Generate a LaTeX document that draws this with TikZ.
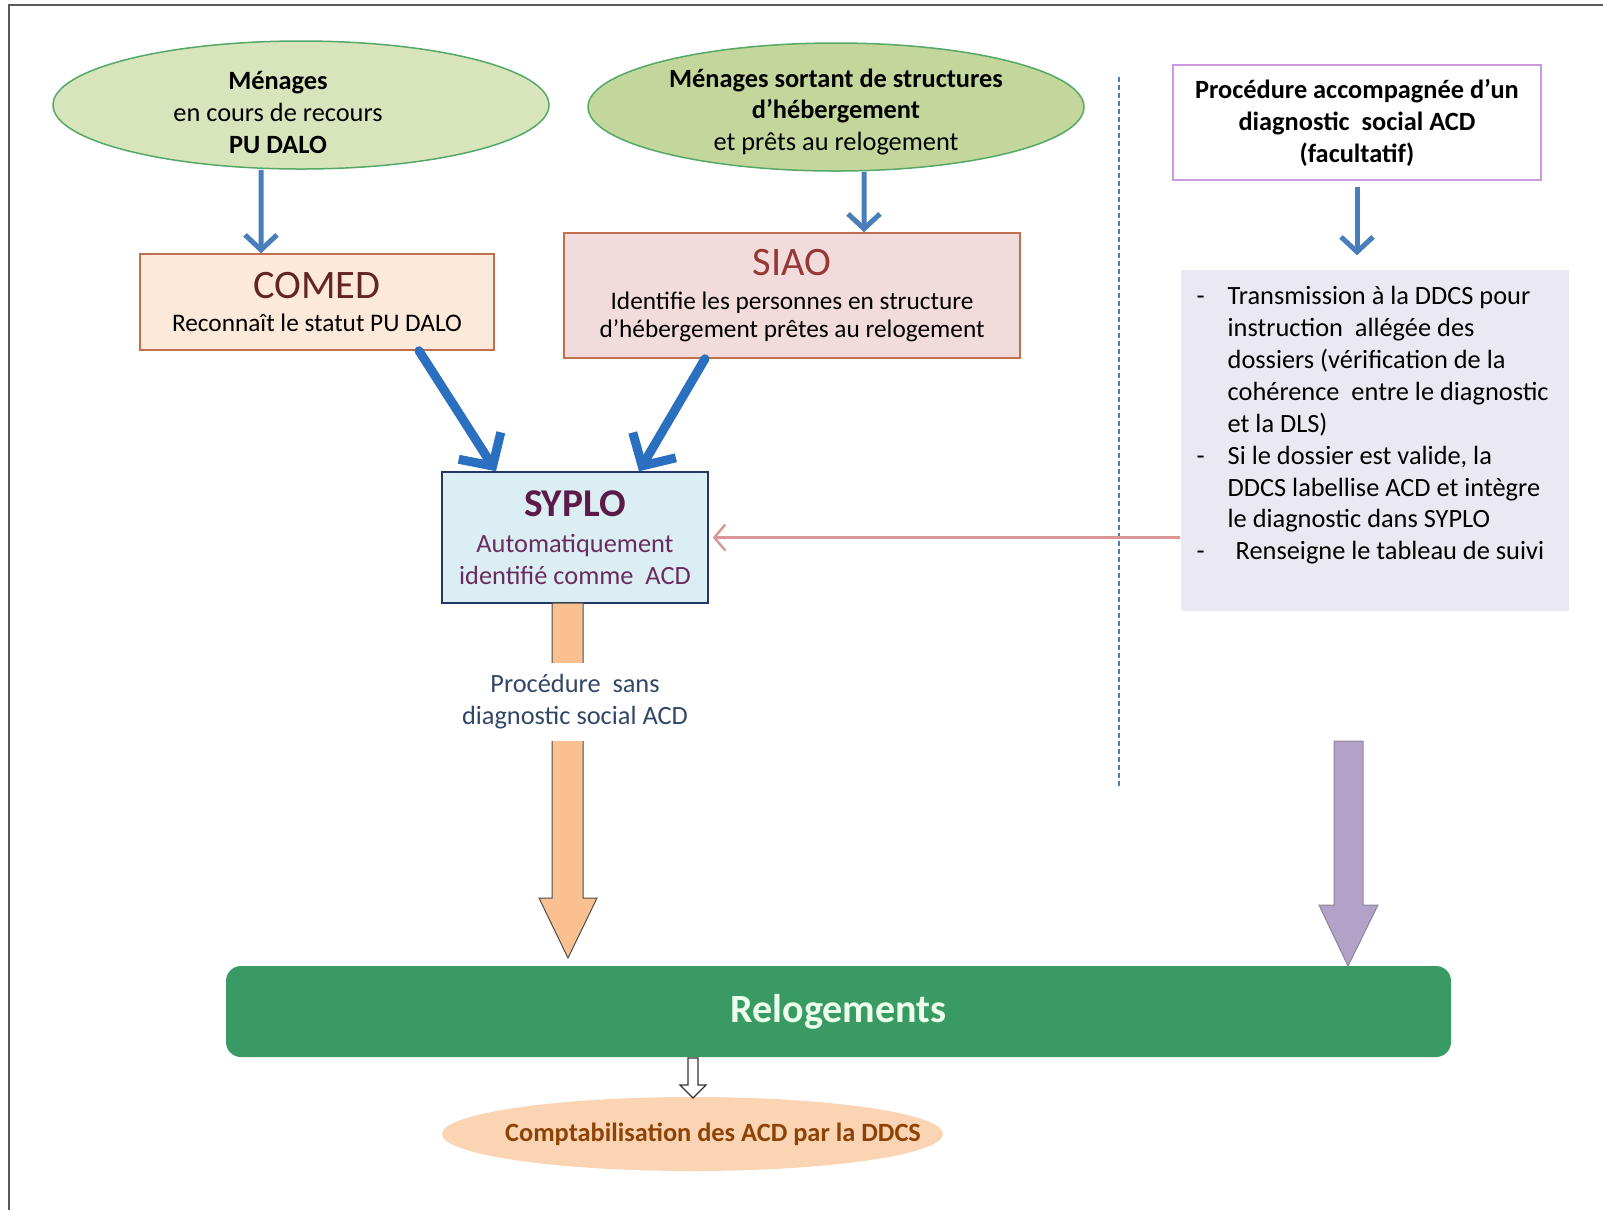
\documentclass[tikz,border=0pt]{standalone}
\usepackage{fontspec}
\setmainfont{Carlito}
\usetikzlibrary{shapes.geometric,arrows.meta}

\definecolor{vertclair}{HTML}{D8E4BC}
\definecolor{vertmoyen}{HTML}{C3D69B}
\definecolor{bordvert}{HTML}{55A866}
\definecolor{peche}{HTML}{FDE9D9}
\definecolor{rosepale}{HTML}{F2DCDB}
\definecolor{bordbrun}{HTML}{C0704F}
\definecolor{bleuciel}{HTML}{DBEEF4}
\definecolor{marine}{HTML}{1F3864}
\definecolor{bleu}{HTML}{4A7EBB}
\definecolor{bleuvif}{HTML}{2A6FC0}
\definecolor{gris}{HTML}{EAE8F0}
\definecolor{lilas}{HTML}{CC99E0}
\definecolor{rosefil}{HTML}{D99694}
\definecolor{orange}{HTML}{FAC090}
\definecolor{mauve}{HTML}{B3A2C7}
\definecolor{vertfonce}{HTML}{3A9A64}
\definecolor{saumon}{HTML}{FBD4B4}
\definecolor{brun}{HTML}{8E4306}
\definecolor{prune}{HTML}{6A2C5E}

\begin{document}
\begin{tikzpicture}[x=0.1mm, y=-0.1mm,
	every node/.style={font=\fontsize{7.5}{9.1}\selectfont, inner sep=0pt},
	bulle/.style={ellipse, draw=bordvert, line width=0.15mm},
	boite/.style={rectangle, line width=0.15mm, align=center},
	fleche/.style={draw=bleu, line width=0.5mm, -{Straight Barb[length=1.5mm, width=3.2mm]}},
	grosse/.style={draw=bleuvif, line width=0.9mm, line cap=round, -{Straight Barb[length=2.4mm, width=5mm]}},
	]

	\useasboundingbox (0,0) rectangle (1603,1210);
	\draw [draw=black!65, line width=0.2mm] (1603,5) -- (9,5) -- (9,1210);

	% les deux publics
	\node [bulle, fill=vertclair, minimum width=49.6mm, minimum height=12.8mm] (dalo) at (301,105) {};
	\node [align=center] (dalotexte) at (278,112) {\textbf{Ménages}\\en cours de recours\\\textbf{PU DALO}};
	\node [bulle, fill=vertmoyen, minimum width=49.6mm, minimum height=12.8mm] (heberg) at (836,107) {};
	\node [align=center] (hebergtexte) at (836,112) {\textbf{Ménages sortant de structures}\\\textbf{d’hébergement}\\et prêts au relogement};

	% instances
	\node [boite, draw=bordbrun, fill=peche, minimum width=35.4mm, minimum height=9.6mm, font=\fontsize{7.2}{8.6}\selectfont] (comed) at (317,302)
		{{\fontsize{11.5}{13}\selectfont\color[HTML]{632523}COMED}\\[1pt] Reconnaît le statut PU DALO};
	\node [boite, draw=bordbrun, fill=rosepale, minimum width=45.6mm, minimum height=12.5mm, font=\fontsize{7.2}{8}\selectfont] (siao) at (792,295.5)
		{{\fontsize{11.5}{13}\selectfont\color[HTML]{953735}SIAO}\\[1.7pt] Identifie les personnes en structure\\d’hébergement prêtes au relogement};
	\node [boite, draw=marine, fill=bleuciel, minimum width=26.6mm, minimum height=13.1mm, text=prune] (syplo) at (575,537.5)
		{{\fontsize{11.2}{13}\selectfont\bfseries\color[HTML]{5B1A48}SYPLO}\\[1.1pt] Automatiquement\\identifié comme~ ACD};

	% procedure avec diagnostic
	\draw [draw=bleu, line width=0.12mm, dash pattern=on 0.5mm off 0.3mm] (1119,77) -- (1119,787);
	\node [boite, draw=lilas, fill=white, minimum width=36.8mm, minimum height=11.5mm, font=\bfseries\fontsize{7.5}{9.1}\selectfont] (proc) at (1357,122.5)
		{Procédure accompagnée d’un\\diagnostic~ social ACD\\(facultatif)};
	\node [rectangle, fill=gris, minimum width=38.8mm, minimum height=34.1mm] (suivi) at (1375,440.5) {};
	\node [anchor=north west] (suivitexte) at (1196,281)
		{\begin{tabular}{@{}p{3.1mm}@{}l@{}}
		- & Transmission à la DDCS pour\\
		  & instruction~ allégée des\\
		  & dossiers (vérification de la\\
		  & cohérence~ entre le diagnostic\\
		  & et la DLS)\\
		- & Si le dossier est valide, la\\
		  & DDCS labellise ACD et intègre\\
		  & le diagnostic dans SYPLO\\
		- & \hspace{0.8mm}Renseigne le tableau de suivi
		\end{tabular}};

	% relogements
	\node [rectangle, rounded corners=1.5mm, fill=vertfonce, minimum width=122.5mm, minimum height=9.1mm,
		font=\bfseries\fontsize{11.4}{13}\selectfont, text=green!8] (relog) at (838.5,1011.5) {Relogements};
	\node [ellipse, fill=saumon, minimum width=50.1mm, minimum height=7.4mm] (compta) at (692.5,1134) {};
	\node [font=\bfseries\fontsize{7.5}{9}\selectfont, text=brun] (comptatexte) at (713,1134) {Comptabilisation des ACD par la DDCS};

	% fleches
	\draw [fleche] ([xshift=-4mm]dalo.south) -- ([xshift=-5.6mm]comed.north);
	\draw [fleche] ([xshift=2.8mm]heberg.south) -- ([xshift=7.2mm]siao.north);
	\draw [grosse] ([xshift=10.2mm]comed.south) -- ([xshift=-7.9mm]syplo.north);
	\draw [grosse] ([xshift=-8.7mm]siao.south) -- ([xshift=6.4mm]syplo.north);
	\draw [fleche, shorten <=0.6mm, shorten >=1.4mm] (proc.south) -- (proc.south |- suivi.north);
	\draw [draw=rosefil, line width=0.24mm, -{Straight Barb[length=1.1mm, width=2.6mm]}, shorten >=0.4mm] (suivi.west |- syplo.east) -- (syplo.east);

	\filldraw [fill=orange, draw=black!70, line width=0.1mm] (552,603) -- (583,603) -- (583,898) -- (597,898) -- (568,958) -- (539,898) -- (552,898) -- cycle;
	\node [fill=white, align=center, inner xsep=1mm, inner ysep=1.2mm, text=marine!80!gray] (sansdiag) at (575,702) {Procédure~ sans\\diagnostic social ACD};
	\filldraw [fill=mauve, draw=mauve!80!black, line width=0.1mm] (1334,741) -- (1363,741) -- (1363,905) -- (1378,905) -- (1348,966) -- (1319,905) -- (1334,905) -- cycle;
	\filldraw [fill=white, draw=black!80, line width=0.12mm] (688,1058) -- (698,1058) -- (698,1085) -- (706,1085) -- (693,1098) -- (680,1085) -- (688,1085) -- cycle;

\end{tikzpicture}
\end{document}
